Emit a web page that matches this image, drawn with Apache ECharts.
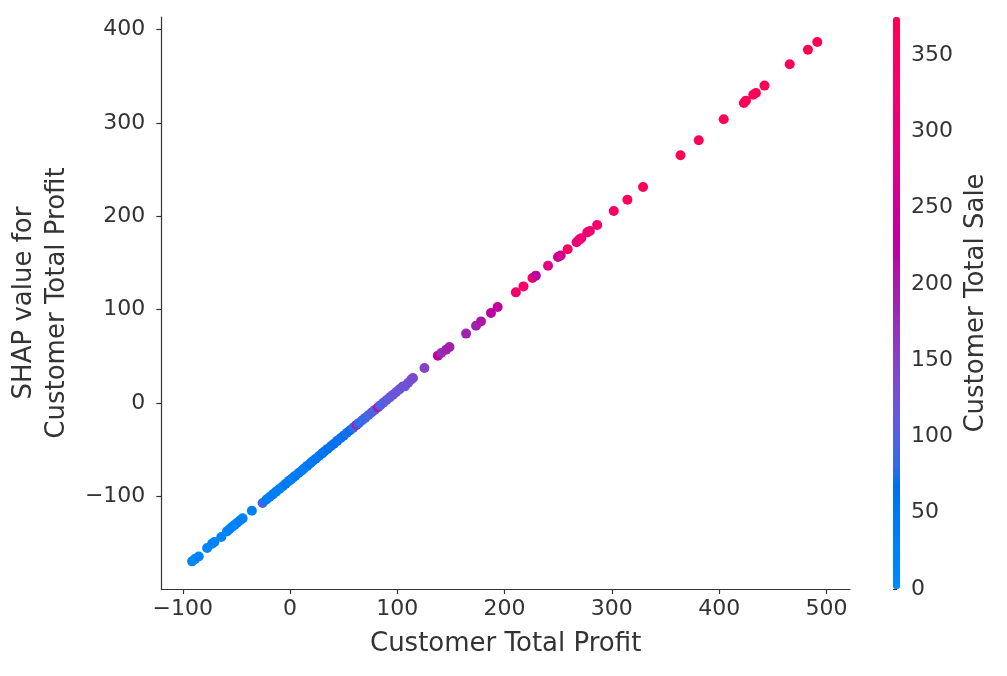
<!DOCTYPE html>
<html><head><meta charset="utf-8">
<script src="https://cdn.jsdelivr.net/npm/echarts@6/dist/echarts.min.js"></script>
<style>html,body{margin:0;padding:0;background:#fff}#c{width:1007px;height:676px}</style>
</head><body><div id="c"></div>
<script>
// ---- data ----
const profit = [
  -91.3, -88.5, -85.1, -77.3, -72.7, -70.5, -64.1, -58.8, -56.5, -54.1, -51.8, -49.5, -46.8, -44.2, -35.6, -25.6,
  -22, -19, -16, -13, -10, -7, -4, -1, 1, 3, 5, 8, 11, 13, 16, 19, 21, 24, 27, 30, 32, 35, 38, 41, 44, 47, 50, 53, 56, 59,
  62, 64, 67, 70, 73, 76, 79, 82, 84, 87, 90, 93, 96, 99, 102, 105,
  107.1, 110, 113, 114.6, 125.3, 137.8, 140.9, 145.5, 148.6, 164.1, 173.4, 178, 187.3, 193.5,
  210.5, 217.6, 226, 229.1, 240.5, 249.8, 252.3, 258.8, 267.1, 269.6, 271.5, 277.1, 279.5, 286.3,
  301.8, 314.5, 329.1, 364.0, 381.0, 404.3, 423.1, 425, 431.8, 434.3, 442.3, 465.8, 482.8, 491.5
];
const shapValue = [
  -169.7, -167.0, -164.4, -155.4, -150.8, -149.0, -143.6, -137.6, -135.2, -132.9, -130.8, -128.6, -126.0, -123.6, -115.4, -107.1,
  -103.5, -100.8, -97.9, -95, -92.1, -89.4, -86.5, -83.5, -81.7, -79.8, -77.9, -75.1, -72.3, -70.2, -67.4, -64.6, -62.5, -59.7, -56.8, -54, -52, -49.2, -46.4, -43.6, -40.6, -37.8, -35, -32, -29.3, -26.4,
  -23.5, -21.6, -18.8, -16, -13.1, -10.2, -7.4, -4.5, -2.6, 0.3, 3.2, 6, 8.8, 11.8, 14.6, 17.6,
  17.8, 21.4, 25.2, 26.8, 37.5, 50.7, 53.6, 57.1, 60.0, 74.3, 82.8, 87.4, 96.4, 102.9,
  118.5, 124.9, 133.9, 136.4, 147.1, 156.4, 158.1, 164.6, 172.1, 175.0, 176.4, 182.8, 184.3, 190.7,
  205.7, 217.8, 231.4, 265.3, 281.4, 303.9, 321.4, 323.9, 330.3, 332.1, 340.0, 362.8, 378.5, 386.8
];
const totalSale = [
  15, 10, 20, 12, 25, 18, 22, 15, 30, 20, 28, 12, 35, 25, 30, 85,
  35, 30, 42, 28, 38, 25, 45, 32, 40, 20, 48, 35, 52, 30, 44, 55, 38, 60, 42, 62, 50, 66, 55, 70, 58, 72, 60, 75, 68, 80,
  185, 78, 88, 82, 95, 90, 105, 205, 100, 95, 115, 105, 120, 125, 115, 130,
  120, 135, 125, 140, 150, 235, 180, 190, 195, 190, 195, 205, 225, 235,
  330, 340, 350, 225, 285, 245, 255, 345, 300, 305, 315, 320, 325, 330,
  345, 350, 358, 365, 362, 366, 362, 364, 366, 368, 366, 370, 372, 375
];
const xTicks = [-100, 0, 100, 200, 300, 400, 500];
const yTicks = [-100, 0, 100, 200, 300, 400];
const saleTicks = [0, 50, 100, 150, 200, 250, 300, 350];

// ---- SHAP red_blue colour map (LCH interpolation) ----
function lchToHex(L, C, h) {
  const a = C * Math.cos(h), b = C * Math.sin(h);
  const fy = (L + 16) / 116, fx = fy + a / 500, fz = fy - b / 200;
  const d = 6 / 29;
  const finv = t => t > d ? t * t * t : 3 * d * d * (t - 4 / 29);
  const X = 0.95047 * finv(fx), Y = finv(fy), Z = 1.08883 * finv(fz);
  let r = 3.2406 * X - 1.5372 * Y - 0.4986 * Z;
  let g = -0.9689 * X + 1.8758 * Y + 0.0415 * Z;
  let bl = 0.0557 * X - 0.2040 * Y + 1.0570 * Z;
  const gam = c => { c = c <= 0.0031308 ? 12.92 * c : 1.055 * Math.pow(c, 1 / 2.4) - 0.055; return Math.round(Math.min(1, Math.max(0, c)) * 255); };
  return '#' + [gam(r), gam(g), gam(bl)].map(v => v.toString(16).padStart(2, '0')).join('');
}
const cmap = [];
const N = 40;
for (let i = 0; i < N; i++) {
  const t = i / (N - 1);
  const L = t < 0.5 ? 54 + (40 - 54) * (t / 0.5) : 40 + (54 - 40) * ((t - 0.5) / 0.5);
  const C = 70 + (90 - 70) * t;
  const h = 4.6588 + ((0.35470565 + 2 * Math.PI) - 4.6588) * t;
  cmap.push(lchToHex(L, C, h));
}

const FONT = 'DejaVu Sans';
const AX = '#333333';
const fmt = v => String(v).replace('-', '\u2212');
const pts = profit.map((x, i) => [x, shapValue[i], totalSale[i]]);

const chart = echarts.init(document.getElementById('c'), null, { renderer: 'canvas' });
chart.setOption({
  animation: false,
  backgroundColor: '#ffffff',
  grid: [
    { left: 159, right: 157, top: 17, bottom: 87 },
    { left: 893, width: 7, top: 17, bottom: 87 }
  ],
  xAxis: [
    {
      type: 'value', gridIndex: 0, min: -120, max: 522,
      axisLine: { show: true, onZero: false, lineStyle: { color: AX, width: 1.2 } },
      axisTick: { show: true, length: 5, lineStyle: { color: AX, width: 1.2 }, customValues: xTicks },
      axisLabel: { color: AX, fontFamily: FONT, fontSize: 22, margin: 9, formatter: fmt, customValues: xTicks },
      splitLine: { show: false },
      name: 'Customer Total Profit', nameLocation: 'middle', nameGap: 42,
      nameTextStyle: { color: AX, fontFamily: FONT, fontSize: 26 }
    },
    { type: 'value', gridIndex: 1, show: false, min: 0, max: 1 }
  ],
  yAxis: [
    {
      type: 'value', gridIndex: 0, min: -199.3, max: 413.5,
      axisLine: { show: true, onZero: false, lineStyle: { color: AX, width: 1.2 } },
      axisTick: { show: true, length: 5, lineStyle: { color: AX, width: 1.2 }, customValues: yTicks },
      axisLabel: { color: AX, fontFamily: FONT, fontSize: 22, margin: 16, formatter: fmt, customValues: yTicks },
      splitLine: { show: false },
      name: 'SHAP value for\nCustomer Total Profit', nameLocation: 'middle', nameGap: 78, nameRotate: 90,
      nameTextStyle: { color: AX, fontFamily: FONT, fontSize: 26, lineHeight: 33, align: 'center' }
    },
    {
      type: 'value', gridIndex: 1, position: 'right', min: 0, max: 375,
      axisLine: { show: false },
      axisTick: { show: true, length: 4, lineStyle: { color: AX, width: 1.2 }, customValues: saleTicks },
      axisLabel: { color: AX, fontFamily: FONT, fontSize: 22, margin: 11, customValues: saleTicks },
      splitLine: { show: false },
      name: 'Customer Total Sale', nameLocation: 'middle', nameGap: 63, nameRotate: 90,
      nameTextStyle: { color: AX, fontFamily: FONT, fontSize: 26 }
    }
  ],
  visualMap: {
    type: 'continuous', min: 0, max: 375, dimension: 2, seriesIndex: 0,
    left: 893, top: 17, itemWidth: 7, itemHeight: 572, padding: 0,
    calculable: false, showLabel: false, text: null, hoverLink: false,
    inRange: { color: cmap }
  },
  series: [{
    type: 'scatter', xAxisIndex: 0, yAxisIndex: 0,
    symbolSize: 10, data: pts,
    itemStyle: { opacity: 1 }
  }]
});
</script></body></html>
